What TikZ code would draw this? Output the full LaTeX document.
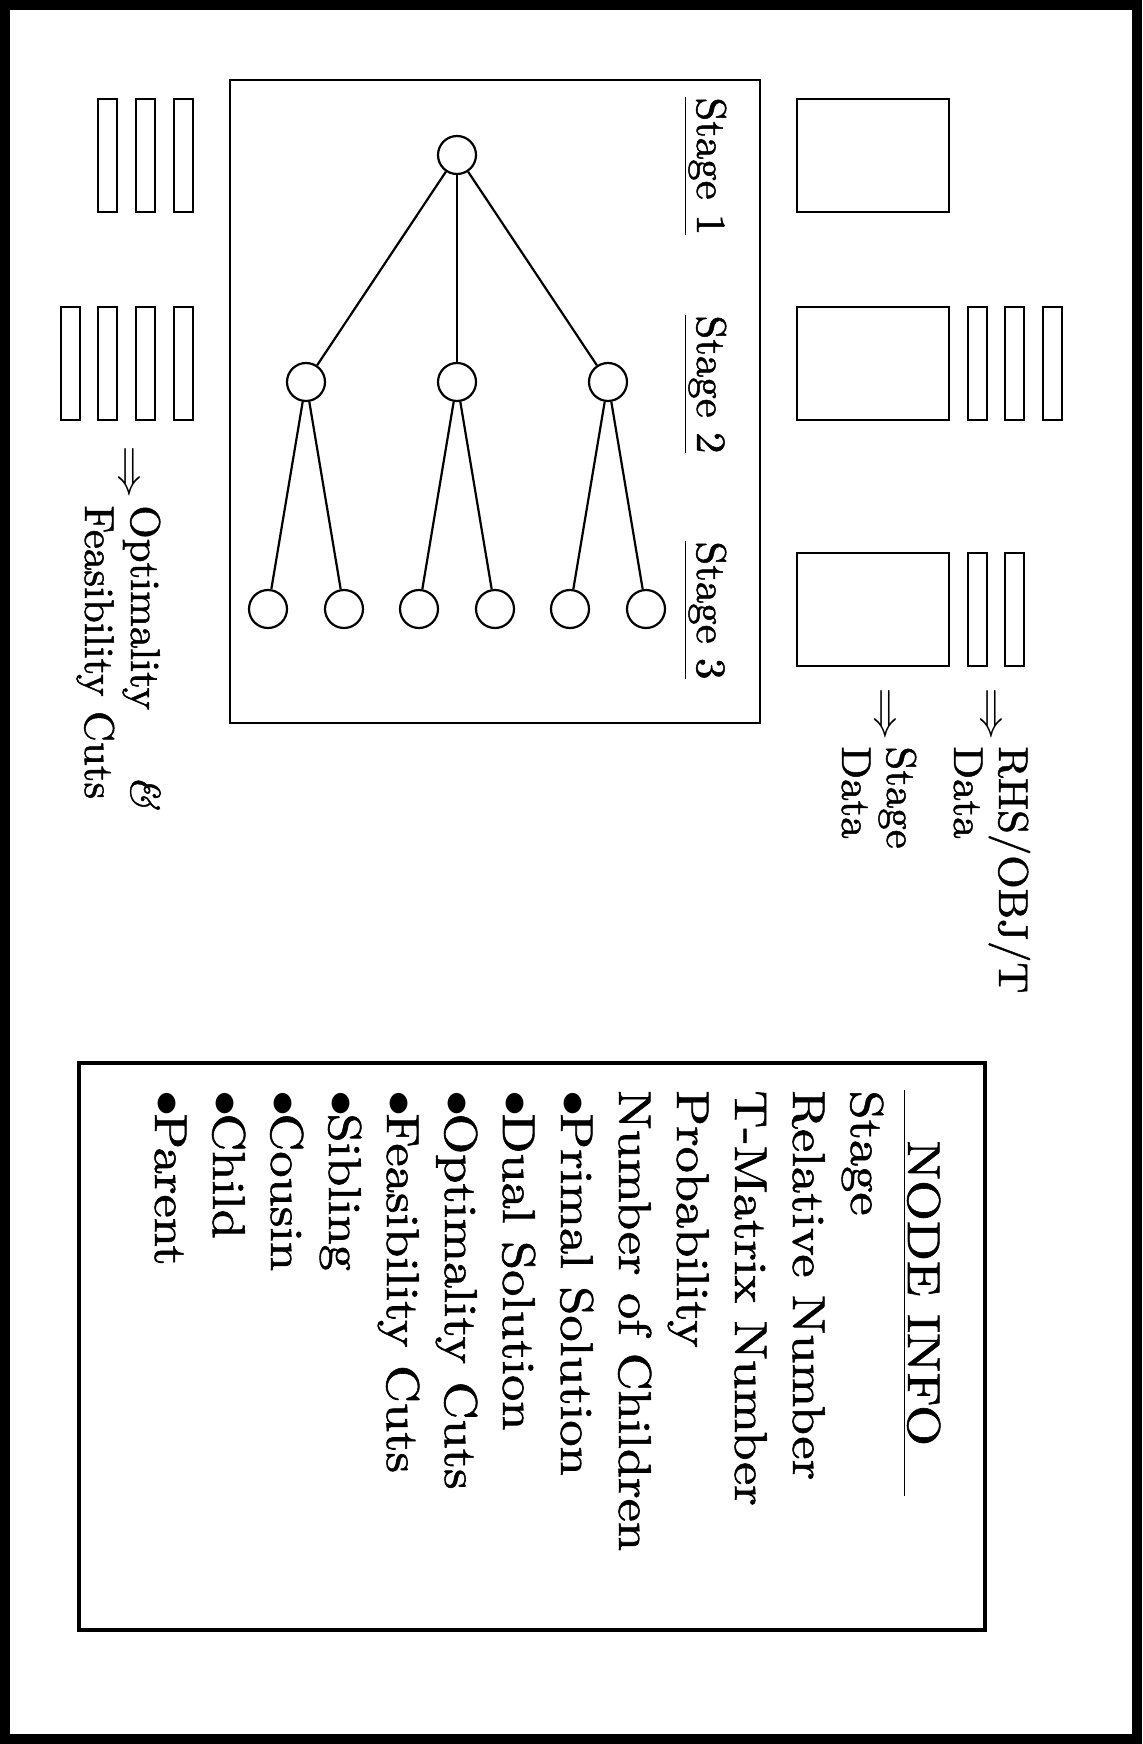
\documentclass[tikz,border=0pt]{standalone}
\usepackage{fix-cm}
\usepackage{fontspec}
\setmainfont{lmroman10-regular.otf}[ItalicFont=lmroman10-italic.otf, BoldFont=lmroman10-bold.otf, FakeBold=1.2]
\usepackage{graphicx}
\newcommand\tkLabelFont{\fontsize{20.8}{22.5}\selectfont}
\newcommand\tkStageFont{\fontsize{20.8}{24}\selectfont}
\newcommand\tkInfoFont{\fontsize{23}{29}\selectfont}
\newcommand\tkDot{$\bullet$\kern-0.06em}
\begin{document}
\begin{tikzpicture}[x=0.5pt,y=-0.5pt,
  frame/.style={line width=5pt},
  panel/.style={line width=1pt},
  infopanel/.style={line width=2pt},
  treenode/.style={circle, draw, line width=1.1pt, minimum size=19pt, inner sep=0pt},
  branch/.style={line width=1.1pt},
  cutbar/.style={rectangle, draw, line width=1.2pt, minimum width=9.5pt, minimum height=56.5pt, inner sep=0pt},
  databox/.style={rectangle, draw, line width=1.2pt, minimum width=76pt, minimum height=56.5pt, inner sep=0pt},
  vtext/.style={rotate=-90, inner sep=0pt, anchor=base west},
  arrowglyph/.style={rotate=-90, inner sep=0pt, font=\fontsize{19.8}{22.5}\selectfont}]

\useasboundingbox (0,0) rectangle (1142,1744);
\draw[frame] (5,5) rectangle (1137,1739);

% scenario tree panel
\draw[panel] (230,80) rectangle (760,723);
\node[vtext, font=\tkStageFont] (s1) at (697,97)  {\underline{\scalebox{1.03}[1]{Stage 1}}};
\node[vtext, font=\tkStageFont] (s2) at (697,315) {\underline{\scalebox{1.03}[1]{Stage 2}}};
\node[vtext, font=\tkStageFont] (s3) at (697,541) {\underline{\scalebox{1.03}[1]{Stage 3}}};

\node[treenode] (root) at (457,155) {};
\node[treenode] (m1) at (306,382) {};
\node[treenode] (m2) at (457,382) {};
\node[treenode] (m3) at (608,382) {};
\node[treenode] (l1) at (268,609) {};
\node[treenode] (l2) at (344,609) {};
\node[treenode] (l3) at (419,609) {};
\node[treenode] (l4) at (495,609) {};
\node[treenode] (l5) at (570,609) {};
\node[treenode] (l6) at (646,609) {};
\draw[branch] (root) -- (m1);
\draw[branch] (root) -- (m2);
\draw[branch] (root) -- (m3);
\draw[branch] (m1) -- (l1);
\draw[branch] (m1) -- (l2);
\draw[branch] (m2) -- (l3);
\draw[branch] (m2) -- (l4);
\draw[branch] (m3) -- (l5);
\draw[branch] (m3) -- (l6);

% cut storage, left
\node[cutbar] (ca1) at (107.5,155.5) {};
\node[cutbar] (ca2) at (145.5,155.5) {};
\node[cutbar] (ca3) at (183.5,155.5) {};
\node[cutbar] (cb0) at (70.5,363.5) {};
\node[cutbar] (cb1) at (107.5,363.5) {};
\node[cutbar] (cb2) at (145.5,363.5) {};
\node[cutbar] (cb3) at (183.5,363.5) {};
\node[arrowglyph] (arL) at (127,472) {\scalebox{1.35}[1]{$\Rightarrow$}};
\node[vtext, font=\fontsize{20.8}{23}\selectfont] (cuts) at (131,505)
  {\scalebox{1.03}[1]{\begin{tabular}[t]{@{}l@{}}\makebox[131pt][l]{Optimality}\textit{\&}\\Feasibility Cuts\end{tabular}}};

% stage data, right
\node[databox] (d1) at (873,155.5) {};
\node[databox] (d2) at (873,363.5) {};
\node[databox] (d3) at (873,609.5) {};
\node[cutbar] (r21) at (977.5,363.5) {};
\node[cutbar] (r22) at (1014.5,363.5) {};
\node[cutbar] (r23) at (1052.5,363.5) {};
\node[cutbar] (r31) at (977.5,609.5) {};
\node[cutbar] (r32) at (1014.5,609.5) {};
\node[arrowglyph] (arR) at (989,714) {\scalebox{1.35}[1]{$\Rightarrow$}};
\node[arrowglyph] (arS) at (883,714) {\scalebox{1.35}[1]{$\Rightarrow$}};
\node[vtext, font=\tkLabelFont] (rhs) at (999,746)
  {\scalebox{1.03}[1]{\begin{tabular}[t]{@{}l@{}}RHS/OBJ/T\\Data\end{tabular}}};
\node[vtext, font=\tkLabelFont] (stg) at (887,746)
  {\scalebox{1.03}[1]{\begin{tabular}[t]{@{}l@{}}Stage\\Data\end{tabular}}};

% node information panel
\draw[infopanel] (79,1063) rectangle (985,1630);
\node[vtext, font=\tkInfoFont] (hdr) at (908,1090)
  {\underline{\makebox[203pt]{\scalebox{1.14}[1]{NODE INFO}}}};
\node[vtext, font=\tkInfoFont] (info) at (851,1090)
  {\scalebox{1.14}[1]{\begin{tabular}[t]{@{}l@{}}
   Stage\\
   Relative Number\\
   T-Matrix Number\\
   Probability\\
   Number of Children\\
   \tkDot Primal Solution\\
   \tkDot Dual Solution\\
   \tkDot Optimality Cuts\\
   \tkDot Feasibility Cuts\\
   \tkDot Sibling\\
   \tkDot Cousin\\
   \tkDot Child\\
   \tkDot Parent
  \end{tabular}}};
\end{tikzpicture}
\end{document}
